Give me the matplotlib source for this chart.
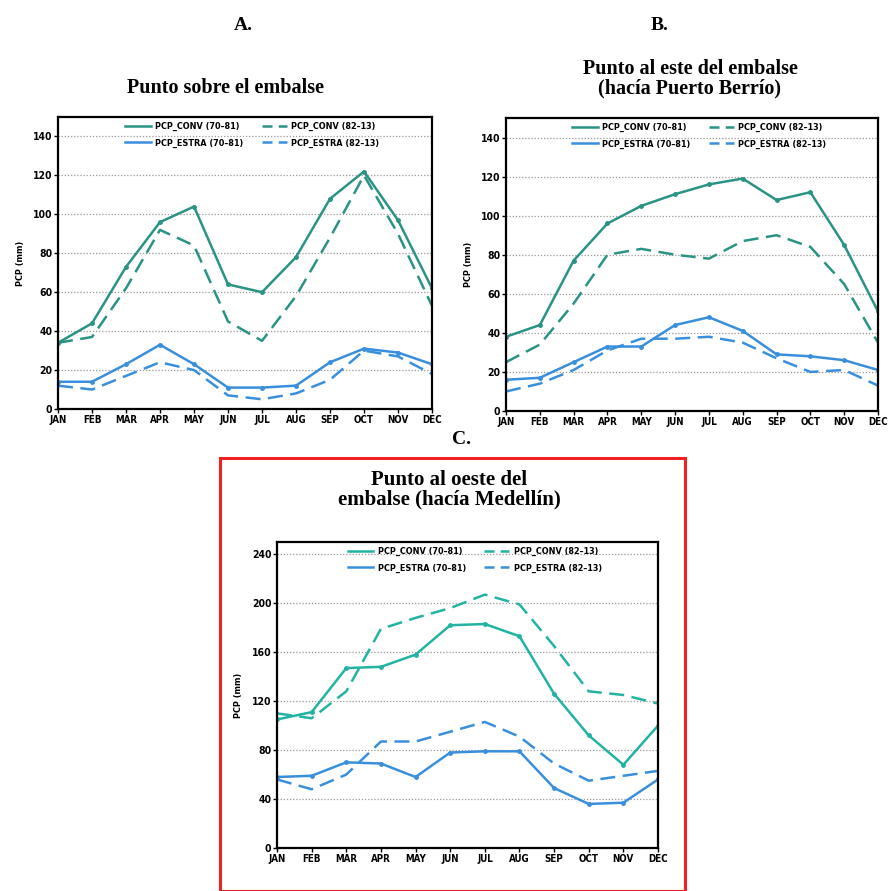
import numpy as np
import matplotlib
matplotlib.use("Agg")
import matplotlib.pyplot as plt
from matplotlib.patches import Rectangle
from matplotlib.lines import Line2D

months = ["JAN", "FEB", "MAR", "APR", "MAY", "JUN", "JUL", "AUG", "SEP", "OCT", "NOV", "DEC"]

# A. Punto sobre el embalse
a_conv_70 = [34, 44, 73, 96, 104, 64, 60, 78, 108, 122, 97, 62]
a_conv_82 = [34, 37, 62, 92, 84, 45, 35, 58, 88, 120, 90, 53]
a_estra_70 = [14, 14, 23, 33, 23, 11, 11, 12, 24, 31, 29, 23]
a_estra_82 = [12, 10, 17, 24, 20, 7, 5, 8, 15, 30, 27, 18]

# B. Punto al este del embalse
b_conv_70 = [38, 44, 77, 96, 105, 111, 116, 119, 108, 112, 85, 51]
b_conv_82 = [25, 34, 55, 80, 83, 80, 78, 87, 90, 84, 65, 35]
b_estra_70 = [16, 17, 25, 33, 33, 44, 48, 41, 29, 28, 26, 21]
b_estra_82 = [10, 14, 21, 31, 37, 37, 38, 35, 27, 20, 21, 13]

# C. Punto al oeste del embalse
c_conv_70 = [105, 111, 147, 148, 158, 182, 183, 173, 126, 92, 68, 100]
c_conv_82 = [110, 106, 128, 179, 188, 196, 207, 199, 165, 128, 125, 118]
c_estra_70 = [58, 59, 70, 69, 58, 78, 79, 79, 49, 36, 37, 56]
c_estra_82 = [56, 48, 60, 87, 87, 95, 103, 91, 69, 55, 59, 63]

labels = ["PCP_CONV (70\u201381)", "PCP_CONV (82\u201313)",
          "PCP_ESTRA (70\u201381)", "PCP_ESTRA (82\u201313)"]

BLUE = "#3a8fdc"
TICKFONT = dict(family="DejaVu Sans", weight="bold", stretch="condensed")


def panel(ax, conv70, conv82, estra70, estra82, ymax, step, teal):
    x = np.arange(len(months))
    ax.plot(x, conv70, "-", color=teal, lw=1.8, marker="o", ms=2.5)
    ax.plot(x, conv82, "--", color=teal, lw=1.8, dashes=(6, 3))
    ax.plot(x, estra70, "-", color=BLUE, lw=1.8, marker="o", ms=2.5)
    ax.plot(x, estra82, "--", color=BLUE, lw=1.8, dashes=(6, 3))
    ax.set_xlim(0, 11)
    ax.set_ylim(0, ymax)
    ax.set_xticks(x)
    ax.set_xticklabels(months, fontsize=7, **TICKFONT)
    yt = np.arange(0, ymax, step)
    ax.set_yticks(yt)
    ax.set_yticklabels([str(v) for v in yt], fontsize=7.5, **TICKFONT)
    for v in yt[1:]:
        ax.axhline(v, color="#999999", lw=0.9, ls=(0, (1, 1.5)), zorder=0)
    ax.tick_params(axis="both", length=3, width=1, pad=1)
    for s in ax.spines.values():
        s.set_linewidth(1.6)
    ax.set_ylabel("PCP (mm)", fontsize=6.5, labelpad=6, **TICKFONT)
    # legend fills column-wise, so order handles to get conv on row 1, estra on row 2
    h1 = Line2D([], [], color=teal, lw=1.8)
    h2 = Line2D([], [], color=teal, lw=1.8, ls="--", dashes=(4, 2.5))
    h3 = Line2D([], [], color=BLUE, lw=1.8)
    h4 = Line2D([], [], color=BLUE, lw=1.8, ls="--", dashes=(4, 2.5))
    ax.legend([h1, h3, h2, h4], [labels[0], labels[2], labels[1], labels[3]],
              ncol=2, frameon=False, loc="upper center",
              bbox_to_anchor=(0.52, 1.01), handlelength=2.8,
              columnspacing=2.0, labelspacing=0.8, handletextpad=0.5,
              prop=dict(family="DejaVu Sans", weight="bold", stretch="condensed", size=6.5))


fig = plt.figure(figsize=(8.89, 8.91), dpi=100)

axA = fig.add_axes([58 / 889, 1 - 409 / 891, 374 / 889, 292 / 891])
panel(axA, a_conv_70, a_conv_82, a_estra_70, a_estra_82, 150, 20, "#2b9384")

axB = fig.add_axes([506 / 889, 1 - 411 / 891, 372 / 889, 293 / 891])
panel(axB, b_conv_70, b_conv_82, b_estra_70, b_estra_82, 150, 20, "#2b9384")

axC = fig.add_axes([277 / 889, 1 - 848 / 891, 381 / 889, 306 / 891])
panel(axC, c_conv_70, c_conv_82, c_estra_70, c_estra_82, 250, 40, "#22b3a2")

serif = dict(family="Liberation Serif", weight="bold", ha="center", va="center")
fig.text(243 / 889, 1 - 25 / 891, "A.", fontsize=14, **serif)
fig.text(225 / 889, 1 - 88 / 891, "Punto sobre el embalse", fontsize=14.5, **serif)
fig.text(660 / 889, 1 - 25 / 891, "B.", fontsize=14, **serif)
fig.text(690 / 889, 1 - 79 / 891, "Punto al este del embalse\n(hacía Puerto Berrío)",
         fontsize=14.5, linespacing=0.95, **serif)
fig.text(462 / 889, 1 - 440 / 891, "C.", fontsize=14, **serif)
fig.text(449 / 889, 1 - 490 / 891, "Punto al oeste del\nembalse (hacía Medellín)",
         fontsize=15, linespacing=0.95, **serif)

fig.patches.append(Rectangle((220 / 889, 0.0), 465 / 889, 1 - 458 / 891,
                             transform=fig.transFigure, fill=False,
                             edgecolor="#ee2222", lw=2.2))

fig.savefig("out.png", dpi=100)
